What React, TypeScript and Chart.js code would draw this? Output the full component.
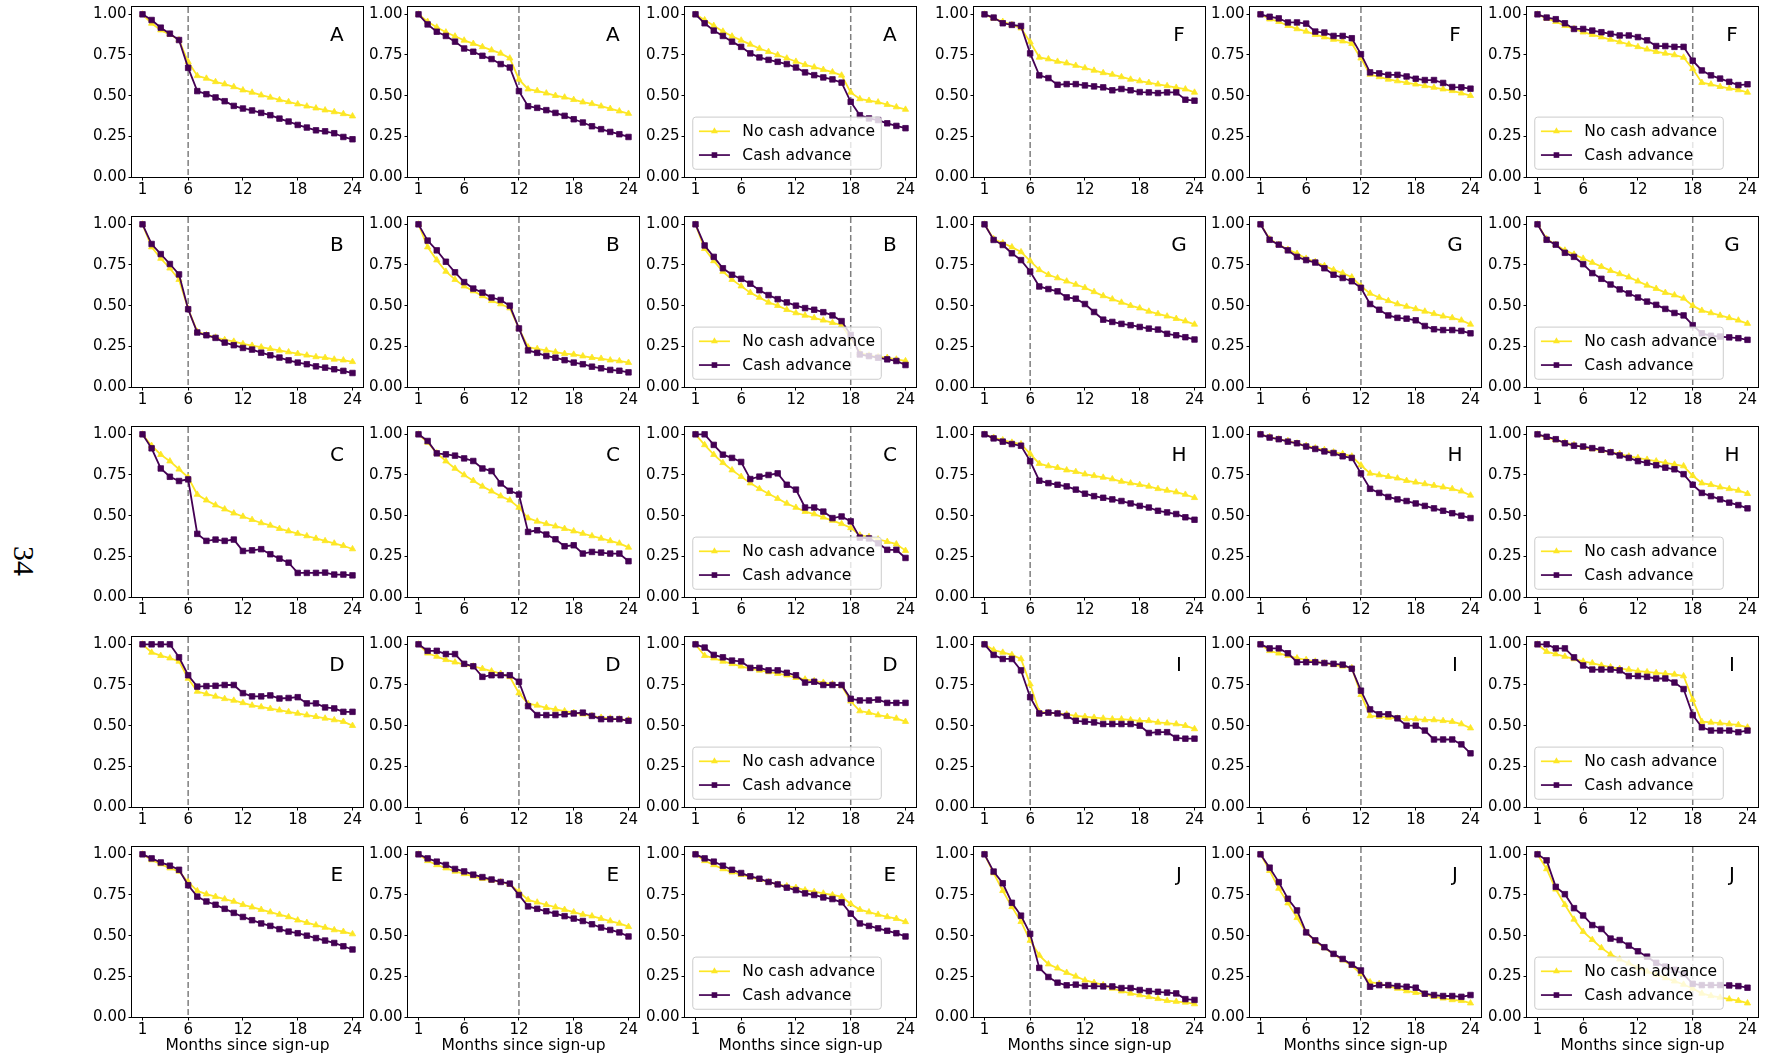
import React, { useEffect, useRef } from "react";
import { Chart, registerables } from "chart.js";

Chart.register(...registerables);

// ---------- data ----------
const MONTHS = [1, 2, 3, 4, 5, 6, 7, 8, 9, 10, 11, 12, 13, 14, 15, 16, 17, 18, 19, 20, 21, 22, 23, 24];
const X_TICKS = [1, 6, 12, 18, 24];
const Y_TICKS = [0, 0.25, 0.5, 0.75, 1.0];
const SERIES_LABELS = ["No cash advance", "Cash advance"];
const X_TITLE = "Months since sign-up";
const PAGE_NUMBER = "34";
const CUTOFFS = [6, 12, 18];
const LEFT_GROUPS = ["A", "B", "C", "D", "E"];
const RIGHT_GROUPS = ["F", "G", "H", "I", "J"];

const A6_NO = [1.0, 0.944, 0.903, 0.877, 0.842, 0.708, 0.622, 0.606, 0.585, 0.571, 0.554, 0.534, 0.52, 0.503, 0.489, 0.474, 0.462, 0.448, 0.435, 0.423, 0.411, 0.4, 0.388, 0.374];
const A6_CASH = [1.0, 0.965, 0.918, 0.881, 0.842, 0.671, 0.528, 0.509, 0.489, 0.466, 0.437, 0.421, 0.409, 0.394, 0.38, 0.359, 0.341, 0.32, 0.304, 0.287, 0.281, 0.269, 0.246, 0.232];
const A12_NO = [1.0, 0.955, 0.92, 0.89, 0.865, 0.84, 0.82, 0.8, 0.78, 0.76, 0.73, 0.6, 0.54, 0.53, 0.515, 0.5, 0.49, 0.475, 0.46, 0.45, 0.435, 0.42, 0.405, 0.39];
const A12_CASH = [1.0, 0.938, 0.893, 0.867, 0.832, 0.79, 0.77, 0.745, 0.725, 0.694, 0.673, 0.528, 0.435, 0.425, 0.411, 0.394, 0.376, 0.355, 0.335, 0.312, 0.294, 0.277, 0.263, 0.246];
const A18_NO = [1.0, 0.965, 0.93, 0.895, 0.865, 0.84, 0.815, 0.79, 0.77, 0.75, 0.73, 0.71, 0.69, 0.675, 0.66, 0.645, 0.625, 0.52, 0.48, 0.47, 0.46, 0.445, 0.43, 0.415];
const A18_CASH = [1.0, 0.945, 0.9, 0.867, 0.832, 0.8, 0.76, 0.735, 0.72, 0.708, 0.694, 0.673, 0.643, 0.626, 0.612, 0.6, 0.58, 0.462, 0.38, 0.36, 0.35, 0.33, 0.314, 0.3];

const B6_NO = [1.0, 0.86, 0.79, 0.73, 0.66, 0.48, 0.34, 0.32, 0.305, 0.29, 0.28, 0.265, 0.255, 0.245, 0.235, 0.225, 0.215, 0.205, 0.195, 0.185, 0.18, 0.17, 0.165, 0.155];
const B6_CASH = [1.0, 0.879, 0.817, 0.756, 0.692, 0.478, 0.335, 0.318, 0.302, 0.273, 0.257, 0.24, 0.23, 0.211, 0.195, 0.181, 0.164, 0.15, 0.14, 0.127, 0.119, 0.109, 0.099, 0.086];
const B12_NO = [1.0, 0.86, 0.78, 0.71, 0.66, 0.62, 0.59, 0.56, 0.53, 0.51, 0.485, 0.36, 0.245, 0.235, 0.225, 0.215, 0.205, 0.2, 0.19, 0.18, 0.175, 0.165, 0.16, 0.15];
const B12_CASH = [1.0, 0.9, 0.84, 0.77, 0.705, 0.645, 0.605, 0.58, 0.55, 0.535, 0.5, 0.36, 0.225, 0.21, 0.19, 0.18, 0.165, 0.15, 0.14, 0.125, 0.115, 0.105, 0.1, 0.09];
const B18_NO = [1.0, 0.85, 0.775, 0.71, 0.66, 0.62, 0.58, 0.55, 0.52, 0.5, 0.475, 0.455, 0.44, 0.425, 0.41, 0.395, 0.38, 0.3, 0.21, 0.195, 0.185, 0.18, 0.17, 0.16];
const B18_CASH = [1.0, 0.87, 0.8, 0.73, 0.69, 0.665, 0.635, 0.595, 0.565, 0.54, 0.52, 0.5, 0.485, 0.475, 0.46, 0.44, 0.405, 0.32, 0.2, 0.19, 0.18, 0.17, 0.16, 0.135];

const C6_NO = [1.0, 0.93, 0.875, 0.835, 0.785, 0.735, 0.63, 0.595, 0.565, 0.54, 0.515, 0.495, 0.475, 0.455, 0.44, 0.42, 0.405, 0.39, 0.375, 0.36, 0.345, 0.33, 0.315, 0.295];
const C6_CASH = [1.0, 0.914, 0.79, 0.739, 0.713, 0.723, 0.388, 0.345, 0.353, 0.345, 0.353, 0.283, 0.287, 0.294, 0.263, 0.236, 0.211, 0.148, 0.148, 0.148, 0.15, 0.138, 0.138, 0.133];
const C12_NO = [1.0, 0.95, 0.885, 0.835, 0.79, 0.75, 0.715, 0.68, 0.65, 0.62, 0.595, 0.55, 0.485, 0.465, 0.45, 0.435, 0.42, 0.405, 0.39, 0.375, 0.36, 0.345, 0.33, 0.305];
const C12_CASH = [1.0, 0.959, 0.883, 0.877, 0.869, 0.852, 0.836, 0.79, 0.774, 0.698, 0.653, 0.63, 0.4, 0.41, 0.384, 0.355, 0.312, 0.318, 0.267, 0.277, 0.273, 0.267, 0.267, 0.22];
const C18_NO = [1.0, 0.935, 0.875, 0.825, 0.78, 0.74, 0.7, 0.665, 0.635, 0.605, 0.575, 0.55, 0.525, 0.51, 0.49, 0.47, 0.45, 0.425, 0.38, 0.37, 0.355, 0.34, 0.325, 0.285];
const C18_CASH = [1.0, 1.0, 0.935, 0.875, 0.855, 0.83, 0.725, 0.74, 0.75, 0.76, 0.69, 0.66, 0.55, 0.55, 0.525, 0.485, 0.495, 0.465, 0.365, 0.36, 0.33, 0.29, 0.29, 0.24];

const D6_NO = [1.0, 0.95, 0.93, 0.915, 0.895, 0.79, 0.71, 0.695, 0.68, 0.665, 0.655, 0.64, 0.625, 0.615, 0.605, 0.595, 0.585, 0.575, 0.565, 0.555, 0.545, 0.535, 0.525, 0.5];
const D6_CASH = [1.0, 1.0, 1.0, 1.0, 0.92, 0.81, 0.74, 0.743, 0.745, 0.75, 0.75, 0.7, 0.68, 0.68, 0.686, 0.667, 0.67, 0.675, 0.637, 0.637, 0.612, 0.606, 0.585, 0.585];
const D12_NO = [1.0, 0.945, 0.925, 0.905, 0.89, 0.875, 0.865, 0.85, 0.835, 0.82, 0.8, 0.7, 0.635, 0.625, 0.61, 0.6, 0.59, 0.58, 0.57, 0.56, 0.55, 0.545, 0.54, 0.535];
const D12_CASH = [1.0, 0.96, 0.96, 0.94, 0.94, 0.88, 0.865, 0.8, 0.81, 0.81, 0.81, 0.77, 0.62, 0.565, 0.565, 0.565, 0.57, 0.575, 0.58, 0.56, 0.54, 0.54, 0.54, 0.53];
const D18_NO = [1.0, 0.93, 0.915, 0.895, 0.88, 0.865, 0.85, 0.84, 0.83, 0.82, 0.81, 0.795, 0.785, 0.775, 0.765, 0.755, 0.745, 0.65, 0.59, 0.58, 0.565, 0.555, 0.545, 0.525];
const D18_CASH = [1.0, 0.98, 0.935, 0.92, 0.9, 0.895, 0.855, 0.855, 0.84, 0.84, 0.825, 0.81, 0.765, 0.77, 0.75, 0.75, 0.75, 0.665, 0.655, 0.655, 0.66, 0.64, 0.64, 0.64];

const E6_NO = [1.0, 0.965, 0.94, 0.915, 0.895, 0.83, 0.775, 0.755, 0.74, 0.725, 0.71, 0.69, 0.675, 0.66, 0.645, 0.63, 0.615, 0.595, 0.58, 0.565, 0.55, 0.535, 0.525, 0.51];
const E6_CASH = [1.0, 0.975, 0.95, 0.93, 0.905, 0.81, 0.74, 0.71, 0.69, 0.665, 0.64, 0.615, 0.595, 0.575, 0.56, 0.54, 0.525, 0.515, 0.5, 0.485, 0.47, 0.455, 0.435, 0.415];
const E12_NO = [1.0, 0.96, 0.935, 0.915, 0.895, 0.88, 0.865, 0.85, 0.84, 0.83, 0.815, 0.77, 0.72, 0.705, 0.69, 0.675, 0.66, 0.645, 0.63, 0.62, 0.605, 0.59, 0.575, 0.555];
const E12_CASH = [1.0, 0.975, 0.955, 0.935, 0.91, 0.895, 0.875, 0.86, 0.845, 0.83, 0.82, 0.75, 0.68, 0.665, 0.65, 0.635, 0.62, 0.605, 0.59, 0.57, 0.55, 0.535, 0.52, 0.495];
const E18_NO = [1.0, 0.96, 0.935, 0.91, 0.89, 0.875, 0.86, 0.845, 0.83, 0.815, 0.805, 0.795, 0.78, 0.77, 0.76, 0.75, 0.74, 0.695, 0.66, 0.645, 0.63, 0.615, 0.605, 0.585];
const E18_CASH = [1.0, 0.975, 0.955, 0.93, 0.905, 0.885, 0.865, 0.85, 0.83, 0.815, 0.795, 0.78, 0.76, 0.75, 0.735, 0.725, 0.705, 0.635, 0.575, 0.56, 0.545, 0.53, 0.515, 0.495];

const F6_NO = [1.0, 0.975, 0.955, 0.935, 0.915, 0.83, 0.735, 0.725, 0.71, 0.7, 0.685, 0.67, 0.655, 0.64, 0.63, 0.615, 0.6, 0.59, 0.58, 0.57, 0.56, 0.55, 0.54, 0.52];
const F6_CASH = [1.0, 0.98, 0.945, 0.935, 0.928, 0.76, 0.625, 0.608, 0.567, 0.571, 0.571, 0.563, 0.557, 0.551, 0.533, 0.541, 0.533, 0.522, 0.52, 0.516, 0.52, 0.52, 0.475, 0.469];
const F12_NO = [1.0, 0.97, 0.955, 0.93, 0.91, 0.895, 0.875, 0.86, 0.845, 0.835, 0.82, 0.73, 0.63, 0.615, 0.6, 0.59, 0.58, 0.57, 0.56, 0.55, 0.54, 0.53, 0.515, 0.5];
const F12_CASH = [1.0, 0.985, 0.975, 0.95, 0.95, 0.943, 0.894, 0.888, 0.867, 0.867, 0.853, 0.755, 0.643, 0.637, 0.628, 0.628, 0.618, 0.604, 0.596, 0.596, 0.578, 0.553, 0.551, 0.543];
const F18_NO = [1.0, 0.975, 0.955, 0.93, 0.91, 0.89, 0.875, 0.86, 0.845, 0.83, 0.815, 0.8, 0.785, 0.77, 0.76, 0.75, 0.735, 0.665, 0.58, 0.57, 0.555, 0.545, 0.535, 0.52];
const F18_CASH = [1.0, 0.98, 0.97, 0.945, 0.91, 0.91, 0.9, 0.89, 0.88, 0.87, 0.87, 0.86, 0.84, 0.805, 0.805, 0.8, 0.8, 0.715, 0.655, 0.625, 0.605, 0.585, 0.565, 0.57];

const G6_NO = [1.0, 0.91, 0.885, 0.86, 0.83, 0.775, 0.72, 0.69, 0.67, 0.65, 0.63, 0.61, 0.585, 0.56, 0.54, 0.52, 0.5, 0.485, 0.465, 0.45, 0.435, 0.42, 0.405, 0.385];
const G6_CASH = [1.0, 0.904, 0.873, 0.822, 0.78, 0.71, 0.618, 0.602, 0.588, 0.551, 0.543, 0.51, 0.461, 0.414, 0.4, 0.388, 0.38, 0.369, 0.359, 0.353, 0.327, 0.318, 0.306, 0.292];
const G12_NO = [1.0, 0.91, 0.875, 0.845, 0.82, 0.79, 0.77, 0.745, 0.72, 0.7, 0.675, 0.62, 0.575, 0.55, 0.53, 0.51, 0.495, 0.48, 0.465, 0.45, 0.435, 0.425, 0.41, 0.385];
const G12_CASH = [1.0, 0.905, 0.875, 0.84, 0.8, 0.78, 0.765, 0.73, 0.69, 0.67, 0.65, 0.61, 0.51, 0.475, 0.44, 0.425, 0.42, 0.41, 0.375, 0.355, 0.35, 0.35, 0.345, 0.33];
const G18_NO = [1.0, 0.91, 0.875, 0.84, 0.815, 0.79, 0.765, 0.74, 0.715, 0.695, 0.675, 0.65, 0.625, 0.605, 0.58, 0.565, 0.545, 0.5, 0.47, 0.455, 0.44, 0.425, 0.41, 0.39];
const G18_CASH = [1.0, 0.905, 0.875, 0.825, 0.8, 0.755, 0.7, 0.665, 0.63, 0.6, 0.575, 0.55, 0.525, 0.505, 0.48, 0.455, 0.44, 0.38, 0.33, 0.315, 0.31, 0.305, 0.3, 0.29];

const H6_NO = [1.0, 0.98, 0.965, 0.95, 0.94, 0.88, 0.82, 0.805, 0.795, 0.78, 0.77, 0.755, 0.745, 0.735, 0.725, 0.71, 0.7, 0.69, 0.68, 0.665, 0.655, 0.645, 0.63, 0.61];
const H6_CASH = [1.0, 0.975, 0.955, 0.94, 0.93, 0.835, 0.715, 0.7, 0.69, 0.68, 0.66, 0.635, 0.62, 0.61, 0.6, 0.59, 0.575, 0.56, 0.55, 0.53, 0.52, 0.51, 0.49, 0.475];
const H12_NO = [1.0, 0.985, 0.97, 0.96, 0.945, 0.93, 0.915, 0.905, 0.89, 0.88, 0.865, 0.81, 0.76, 0.75, 0.74, 0.73, 0.715, 0.705, 0.695, 0.685, 0.675, 0.665, 0.65, 0.625];
const H12_CASH = [1.0, 0.98, 0.97, 0.955, 0.945, 0.925, 0.91, 0.895, 0.885, 0.865, 0.855, 0.76, 0.665, 0.64, 0.615, 0.6, 0.59, 0.575, 0.56, 0.545, 0.53, 0.515, 0.5, 0.485];
const H18_NO = [1.0, 0.98, 0.965, 0.95, 0.935, 0.92, 0.91, 0.9, 0.89, 0.88, 0.865, 0.855, 0.845, 0.835, 0.825, 0.815, 0.805, 0.745, 0.7, 0.69, 0.675, 0.665, 0.655, 0.635];
const H18_CASH = [1.0, 0.985, 0.97, 0.945, 0.93, 0.925, 0.915, 0.905, 0.89, 0.87, 0.855, 0.835, 0.825, 0.81, 0.795, 0.785, 0.755, 0.69, 0.64, 0.62, 0.6, 0.58, 0.565, 0.545];

const I6_NO = [1.0, 0.965, 0.95, 0.935, 0.91, 0.755, 0.585, 0.58, 0.575, 0.57, 0.56, 0.555, 0.55, 0.545, 0.54, 0.54, 0.535, 0.53, 0.53, 0.52, 0.515, 0.51, 0.5, 0.48];
const I6_CASH = [1.0, 0.935, 0.91, 0.91, 0.84, 0.675, 0.575, 0.58, 0.575, 0.56, 0.53, 0.525, 0.52, 0.51, 0.51, 0.51, 0.51, 0.5, 0.455, 0.46, 0.46, 0.425, 0.42, 0.42];
const I12_NO = [1.0, 0.96, 0.945, 0.93, 0.915, 0.905, 0.895, 0.885, 0.875, 0.865, 0.855, 0.69, 0.56, 0.555, 0.55, 0.545, 0.54, 0.54, 0.535, 0.535, 0.53, 0.525, 0.51, 0.485];
const I12_CASH = [1.0, 0.975, 0.975, 0.945, 0.89, 0.89, 0.89, 0.885, 0.88, 0.875, 0.85, 0.715, 0.6, 0.57, 0.57, 0.545, 0.5, 0.5, 0.47, 0.415, 0.415, 0.415, 0.385, 0.33];
const I18_NO = [1.0, 0.955, 0.94, 0.925, 0.91, 0.895, 0.885, 0.87, 0.86, 0.85, 0.845, 0.835, 0.83, 0.825, 0.82, 0.815, 0.805, 0.66, 0.525, 0.52, 0.515, 0.51, 0.505, 0.49];
const I18_CASH = [1.0, 1.0, 0.975, 0.975, 0.92, 0.87, 0.845, 0.845, 0.845, 0.84, 0.805, 0.805, 0.8, 0.79, 0.79, 0.765, 0.725, 0.565, 0.49, 0.47, 0.47, 0.47, 0.46, 0.47];

const J6_NO = [1.0, 0.885, 0.776, 0.677, 0.586, 0.47, 0.379, 0.325, 0.3, 0.273, 0.25, 0.226, 0.211, 0.197, 0.176, 0.159, 0.145, 0.135, 0.124, 0.112, 0.1, 0.095, 0.09, 0.08];
const J6_CASH = [1.0, 0.894, 0.822, 0.702, 0.623, 0.511, 0.302, 0.246, 0.211, 0.195, 0.199, 0.19, 0.19, 0.188, 0.188, 0.178, 0.178, 0.166, 0.159, 0.155, 0.15, 0.145, 0.11, 0.105];
const J12_NO = [1.0, 0.9, 0.79, 0.7, 0.61, 0.52, 0.465, 0.425, 0.385, 0.35, 0.315, 0.265, 0.215, 0.205, 0.19, 0.175, 0.16, 0.15, 0.14, 0.125, 0.115, 0.105, 0.1, 0.085];
const J12_CASH = [1.0, 0.918, 0.829, 0.727, 0.655, 0.52, 0.471, 0.429, 0.388, 0.357, 0.322, 0.286, 0.186, 0.196, 0.196, 0.19, 0.186, 0.18, 0.143, 0.135, 0.129, 0.129, 0.124, 0.135];
const J18_NO = [1.0, 0.91, 0.785, 0.69, 0.6, 0.525, 0.475, 0.425, 0.385, 0.355, 0.33, 0.305, 0.28, 0.26, 0.24, 0.22, 0.2, 0.175, 0.145, 0.13, 0.12, 0.11, 0.1, 0.085];
const J18_CASH = [1.0, 0.963, 0.8, 0.755, 0.669, 0.624, 0.565, 0.541, 0.482, 0.473, 0.439, 0.404, 0.371, 0.333, 0.31, 0.29, 0.265, 0.204, 0.196, 0.196, 0.196, 0.194, 0.19, 0.18];

// group -> [cutoff 6, cutoff 12, cutoff 18] pairs of [no advance, cash advance]
const SERIES_BY_GROUP: Record<string, number[][][]> = {
  A: [[A6_NO, A6_CASH], [A12_NO, A12_CASH], [A18_NO, A18_CASH]],
  B: [[B6_NO, B6_CASH], [B12_NO, B12_CASH], [B18_NO, B18_CASH]],
  C: [[C6_NO, C6_CASH], [C12_NO, C12_CASH], [C18_NO, C18_CASH]],
  D: [[D6_NO, D6_CASH], [D12_NO, D12_CASH], [D18_NO, D18_CASH]],
  E: [[E6_NO, E6_CASH], [E12_NO, E12_CASH], [E18_NO, E18_CASH]],
  F: [[F6_NO, F6_CASH], [F12_NO, F12_CASH], [F18_NO, F18_CASH]],
  G: [[G6_NO, G6_CASH], [G12_NO, G12_CASH], [G18_NO, G18_CASH]],
  H: [[H6_NO, H6_CASH], [H12_NO, H12_CASH], [H18_NO, H18_CASH]],
  I: [[I6_NO, I6_CASH], [I12_NO, I12_CASH], [I18_NO, I18_CASH]],
  J: [[J6_NO, J6_CASH], [J12_NO, J12_CASH], [J18_NO, J18_CASH]],
};

// ---------- layout & style ----------
const W = 1771;
const H = 1057;
const PANEL_LEFTS = [132, 408, 685, 974, 1250, 1527];
const PANEL_TOPS = [7, 217, 427, 637, 847];
const PANEL_W = 231;
const PANEL_H = 170;
const M_LEFT = 50;
const M_TOP = 14;
const M_RIGHT = 8;
const M_BOTTOM = 26;
const M_BOTTOM_LAST = 38;

const YELLOW = "#fde725";
const PURPLE = "#440154";
const FONT = '"DejaVu Sans"';
const TICK_SIZE = 15;
const LABEL_SIZE = 15.5;
const LETTER_SIZE = 20;

type Panel = {
  group: string;
  cutoff: number;
  no: number[];
  cash: number[];
  row: number;
  col: number;
  legend: boolean;
};

const PANELS: Panel[] = [];
for (let r = 0; r < 5; r++) {
  for (let c = 0; c < 6; c++) {
    const group = c < 3 ? LEFT_GROUPS[r] : RIGHT_GROUPS[r];
    const k = c % 3;
    const pair = SERIES_BY_GROUP[group][k];
    PANELS.push({ group, cutoff: CUTOFFS[k], no: pair[0], cash: pair[1], row: r, col: c, legend: k === 2 });
  }
}

function drawTriangle(ctx: CanvasRenderingContext2D, x: number, y: number, r: number) {
  ctx.beginPath();
  for (let i = 0; i < 3; i++) {
    const a = (i * 2 * Math.PI) / 3;
    const px = x + Math.sin(a) * r;
    const py = y - Math.cos(a) * r;
    if (i === 0) ctx.moveTo(px, py);
    else ctx.lineTo(px, py);
  }
  ctx.closePath();
  ctx.fill();
}

function makeDecor(panel: Panel) {
  return {
    id: "panelDecor",
    beforeDatasetsDraw(chart: any) {
      const { ctx, chartArea, scales } = chart;
      const x = scales.x.getPixelForValue(panel.cutoff);
      ctx.save();
      ctx.strokeStyle = "#7f7f7f";
      ctx.lineWidth = 1.5;
      ctx.setLineDash([6, 3]);
      ctx.beginPath();
      ctx.moveTo(x, chartArea.top);
      ctx.lineTo(x, chartArea.bottom);
      ctx.stroke();
      ctx.restore();
    },
    afterDatasetsDraw(chart: any) {
      const { ctx, chartArea } = chart;
      const { left, top, right, bottom } = chartArea;
      const w = right - left;
      ctx.save();
      // panel letter
      ctx.fillStyle = "#000";
      ctx.font = `${LETTER_SIZE}px ${FONT}`;
      ctx.textAlign = "center";
      ctx.textBaseline = "middle";
      ctx.fillText(panel.group, left + 0.887 * w, top + 28.5);

      // legend
      if (panel.legend) {
        const fs = LABEL_SIZE;
        ctx.font = `${fs}px ${FONT}`;
        const textW = Math.max(...SERIES_LABELS.map((s) => ctx.measureText(s).width));
        const pad = 0.5 * fs;
        const bp = 0.4 * fs;
        const handle = 2 * fs;
        const htp = 0.8 * fs;
        const rowH = 16;
        const ls = 0.5 * fs;
        const boxW = 2 * bp + handle + htp + textW;
        const boxH = 2 * bp + 2 * rowH + ls;
        const x0 = left + pad;
        const y0 = bottom - pad - boxH;
        ctx.beginPath();
        (ctx as any).roundRect(x0, y0, boxW, boxH, 3);
        ctx.fillStyle = "rgba(255,255,255,0.8)";
        ctx.fill();
        ctx.strokeStyle = "#cccccc";
        ctx.lineWidth = 1;
        ctx.stroke();
        const colors = [YELLOW, PURPLE];
        SERIES_LABELS.forEach((label, i) => {
          const cy = y0 + bp + rowH / 2 + i * (rowH + ls);
          const hx0 = x0 + bp;
          ctx.strokeStyle = colors[i];
          ctx.fillStyle = colors[i];
          ctx.lineWidth = 1.7;
          ctx.beginPath();
          ctx.moveTo(hx0, cy);
          ctx.lineTo(hx0 + handle, cy);
          ctx.stroke();
          const mx = hx0 + handle / 2;
          if (i === 0) drawTriangle(ctx, mx, cy, 4);
          else ctx.fillRect(mx - 2.8, cy - 2.8, 5.6, 5.6);
          ctx.fillStyle = "#000";
          ctx.textAlign = "left";
          ctx.textBaseline = "middle";
          ctx.fillText(label, hx0 + handle + htp, cy + 0.5);
        });
      }

      // frame
      ctx.strokeStyle = "#000";
      ctx.lineWidth = 1;
      ctx.setLineDash([]);
      ctx.strokeRect(left - 0.5, top - 0.5, w + 1, bottom - top + 1);
      ctx.restore();
    },
  };
}

function PanelChart({ panel }: { panel: Panel }) {
  const ref = useRef<HTMLCanvasElement | null>(null);
  const isLast = panel.row === 4;
  const mBottom = isLast ? M_BOTTOM_LAST : M_BOTTOM;
  const cw = M_LEFT + PANEL_W + M_RIGHT;
  const ch = M_TOP + PANEL_H + mBottom;
  const cl = PANEL_LEFTS[panel.col] - M_LEFT;
  const ct = PANEL_TOPS[panel.row] - M_TOP;

  useEffect(() => {
    if (!ref.current) return;
    const tickFont = { family: FONT, size: TICK_SIZE };
    const chart = new Chart(ref.current, {
      type: "line",
      data: {
        datasets: [
          {
            label: SERIES_LABELS[0],
            data: MONTHS.map((m, i) => ({ x: m, y: panel.no[i] })),
            borderColor: YELLOW,
            backgroundColor: YELLOW,
            pointBackgroundColor: YELLOW,
            pointBorderColor: YELLOW,
            pointStyle: "triangle",
            pointRadius: 3.6,
            pointBorderWidth: 0.8,
            borderWidth: 1.8,
            tension: 0,
            order: 2,
          },
          {
            label: SERIES_LABELS[1],
            data: MONTHS.map((m, i) => ({ x: m, y: panel.cash[i] })),
            borderColor: PURPLE,
            backgroundColor: PURPLE,
            pointBackgroundColor: PURPLE,
            pointBorderColor: PURPLE,
            pointStyle: "rect",
            pointRadius: 3.9,
            pointBorderWidth: 0.8,
            borderWidth: 1.8,
            tension: 0,
            order: 1,
          },
        ],
      },
      options: {
        responsive: false,
        animation: false,
        events: [],
        layout: { padding: { top: M_TOP, right: M_RIGHT, bottom: 0, left: 0 }, autoPadding: false },
        plugins: {
          legend: { display: false },
          tooltip: { enabled: false },
          title: { display: false },
        },
        scales: {
          x: {
            type: "linear",
            min: -0.15,
            max: 25.15,
            afterBuildTicks: (s: any) => {
              s.ticks = X_TICKS.map((v) => ({ value: v }));
            },
            afterFit: (s: any) => {
              s.height = mBottom;
            },
            grid: { display: true, drawOnChartArea: false, drawTicks: true, tickLength: 3.5, color: "#000", lineWidth: 1 },
            border: { display: false },
            ticks: {
              autoSkip: false,
              maxRotation: 0,
              padding: 1,
              color: "#000",
              font: tickFont,
              callback: (v: any) => String(v),
            },
            title: {
              display: isLast,
              text: X_TITLE,
              color: "#000",
              font: { family: FONT, size: LABEL_SIZE },
              padding: 0,
            },
          },
          y: {
            type: "linear",
            min: 0,
            max: 1.045,
            afterBuildTicks: (s: any) => {
              s.ticks = Y_TICKS.map((v) => ({ value: v }));
            },
            afterFit: (s: any) => {
              s.width = M_LEFT;
            },
            grid: { display: true, drawOnChartArea: false, drawTicks: true, tickLength: 3.5, color: "#000", lineWidth: 1 },
            border: { display: false },
            ticks: {
              autoSkip: false,
              padding: 2,
              color: "#000",
              font: tickFont,
              callback: (v: any) => Number(v).toFixed(2),
            },
          },
        },
      } as any,
      plugins: [makeDecor(panel)],
    });
    return () => chart.destroy();
  }, [panel]);

  return (
    <canvas
      ref={ref}
      width={cw}
      height={ch}
      style={{ position: "absolute", left: cl, top: ct, width: cw, height: ch }}
    />
  );
}

export default function App() {
  return (
    <div
      style={{
        position: "absolute",
        left: 0,
        top: 0,
        width: W,
        height: H,
        background: "#fff",
        overflow: "hidden",
      }}
    >
      {PANELS.map((p, i) => (
        <PanelChart key={i} panel={p} />
      ))}
      <div
        style={{
          position: "absolute",
          left: 24,
          top: 561,
          transform: "translate(-50%, -50%) rotate(90deg)",
          fontFamily: '"Liberation Serif", serif',
          fontSize: 30,
          lineHeight: 1,
          whiteSpace: "nowrap",
          color: "#000",
        }}
      >
        {PAGE_NUMBER}
      </div>
    </div>
  );
}
